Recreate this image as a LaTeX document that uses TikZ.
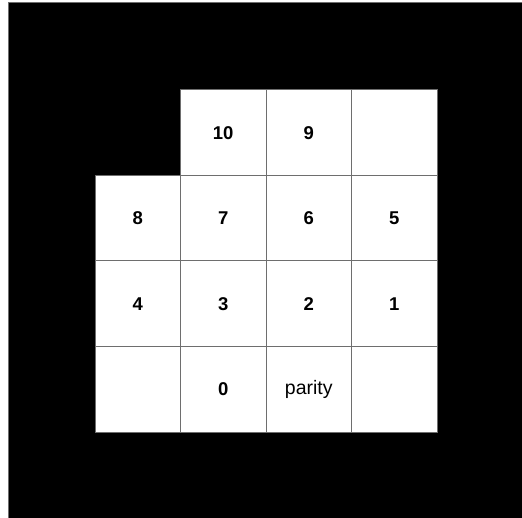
\documentclass[tikz,border=0pt]{standalone}
\usepackage{fontspec}
\setmainfont{Liberation Sans}
\definecolor{gridgray}{HTML}{6E6E6E}
\begin{document}
\begin{tikzpicture}[x=1pt,y=-1pt,
  cell/.style={draw=gridgray,line width=1pt,fill=white,minimum width=85.5pt,minimum height=85.5pt,inner sep=0pt,outer sep=0pt,anchor=north west,font=\fontsize{18.5}{20}\selectfont\bfseries},
  pcell/.style={cell,font=\fontsize{19.5}{21}\selectfont}]
\useasboundingbox (0,0) rectangle (522,518);
\fill[white] (0,0) rectangle (522,518);
\fill[black] (8,3) rectangle (522,518);
\draw[gridgray,line width=1pt] (8,518) -- (8,3) -- (522,3);
% row 0
\node[cell] (c10) at (180.5,90) {10};
\node[cell] (c9) at (266,90) {9};
\node[cell] (e1) at (351.5,90) {};
% row 1
\node[cell] (c8) at (95,175.5) {8};
\node[cell] (c7) at (180.5,175.5) {7};
\node[cell] (c6) at (266,175.5) {6};
\node[cell] (c5) at (351.5,175.5) {5};
% row 2
\node[cell] (c4) at (95,261) {4};
\node[cell] (c3) at (180.5,261) {3};
\node[cell] (c2) at (266,261) {2};
\node[cell] (c1) at (351.5,261) {1};
% row 3
\node[cell] (e2) at (95,346.5) {};
\node[cell] (c0) at (180.5,346.5) {0};
\node[pcell] (cp) at (266,346.5) {parity};
\node[cell] (e3) at (351.5,346.5) {};
\end{tikzpicture}
\end{document}
